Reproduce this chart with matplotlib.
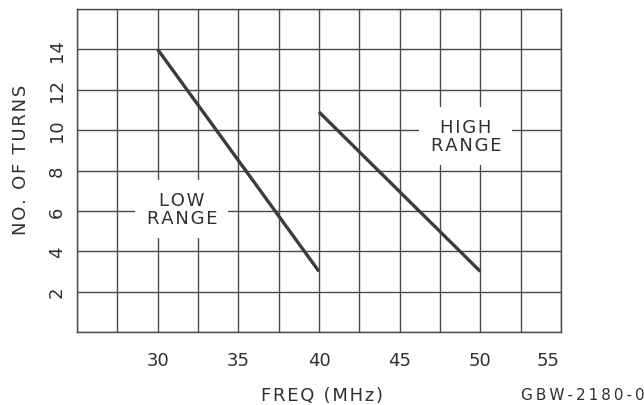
import matplotlib
matplotlib.use("Agg")
import matplotlib.pyplot as plt
from matplotlib.transforms import ScaledTranslation
import numpy as np

# Data
freq_low = [30, 40]
turns_low = [14, 3]
freq_high = [40, 50]
turns_high = [10.9, 3]

x_ticks = [30, 35, 40, 45, 50, 55]
y_ticks = [2, 4, 6, 8, 10, 12, 14]
x_grid = np.arange(25, 55.01, 2.5)
y_grid = np.arange(0, 16.01, 2)

plt.rcParams['font.family'] = ['DejaVu Sans']
fig = plt.figure(figsize=(6.44, 4.06), dpi=100)
ax = fig.add_axes([77/644, (406-333)/406, (561-77)/644, (333-10)/406])


def spaced(s, sp='\u200a'):
    return '\n'.join(sp.join(line) for line in s.split('\n'))


grid_col = '#4a4a4a'
txt_col = '#303030'
ax.set_xlim(25, 55)
ax.set_ylim(0, 16)
ax.set_xticks(x_ticks)
ax.set_yticks(y_ticks)
ax.set_xticks(x_grid, minor=True)
ax.set_yticks(y_grid, minor=True)
ax.grid(True, which='both', color=grid_col, linewidth=1.0)
ax.tick_params(which='both', length=0)
ax.tick_params(axis='x', pad=14, labelsize=13, colors=txt_col)
ax.tick_params(axis='y', pad=8, labelsize=13, colors=txt_col)
for lab in ax.get_yticklabels():
    lab.set_rotation(90)
    lab.set_va('center')
for s in ax.spines.values():
    s.set_color(grid_col)
    s.set_linewidth(1.0)
ax.set_axisbelow(True)

# shift last x label as in reference
labs = ax.get_xticklabels()
labs[-1].set_transform(labs[-1].get_transform() + ScaledTranslation(-13/100, 0, fig.dpi_scale_trans))

line_col = '#3c3c3c'
ax.plot(freq_low, turns_low, color=line_col, linewidth=2.4, solid_capstyle='butt', zorder=3)
ax.plot(freq_high, turns_high, color=line_col, linewidth=2.4, solid_capstyle='butt', zorder=3)

ax.text(31.5, 6.1, spaced('LOW\nRANGE'), ha='center', va='center', fontsize=13, color=txt_col,
        linespacing=1.0, zorder=4,
        bbox=dict(facecolor='white', edgecolor='none', pad=8))
ax.text(49.1, 9.7, spaced('HIGH\nRANGE'), ha='center', va='center', fontsize=13, color=txt_col,
        linespacing=1.0, zorder=4,
        bbox=dict(facecolor='white', edgecolor='none', pad=8))

fig.text(322/644, 1 - 396/406, spaced('FREQ (MHz)'), ha='center', va='center', fontsize=13, color=txt_col)
fig.text(21/644, 1 - 160/406, spaced('NO. OF TURNS'), ha='center', va='center', rotation=90, fontsize=13, color=txt_col)
fig.text(583/644, 1 - 396/406, spaced('GBW-2180-0', '\u2009'), ha='center', va='center', fontsize=11, color=txt_col)

fig.savefig('out.png', dpi=100)
